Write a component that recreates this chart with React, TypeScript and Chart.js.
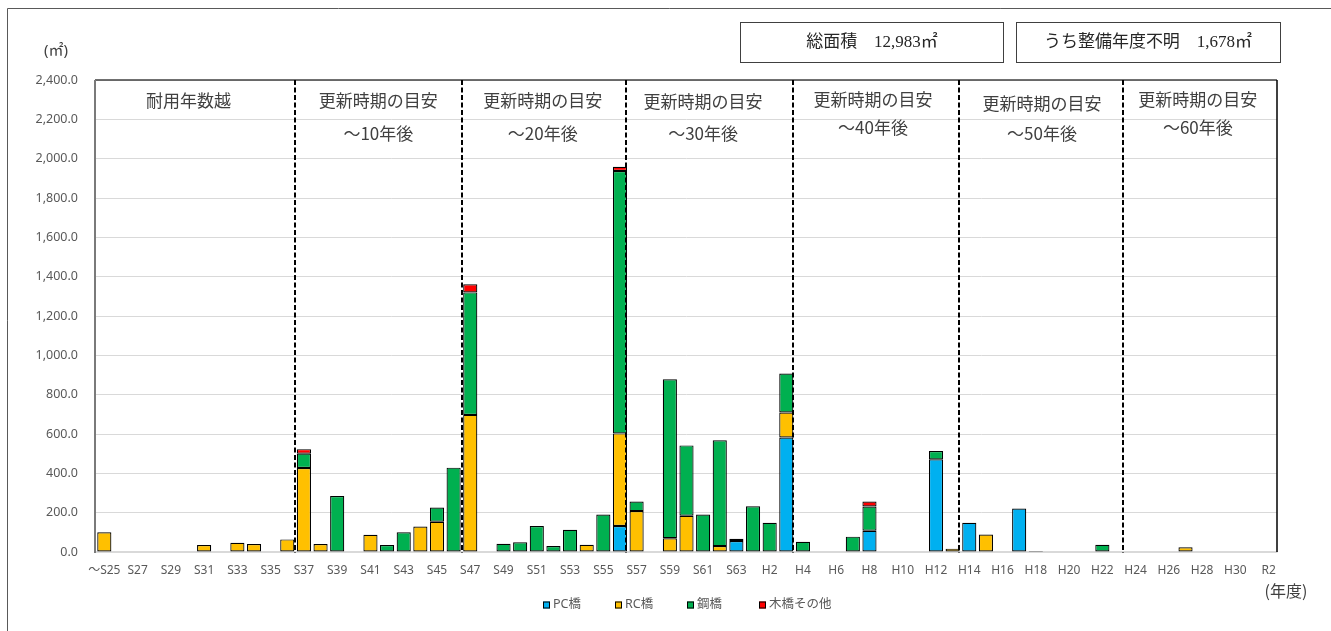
import React, { useEffect, useRef } from 'react';
import { Chart, registerables } from 'chart.js';

Chart.register(...registerables);

// ---- data ----
const CATEGORIES = [
  '～S25', 'S26', 'S27', 'S28', 'S29', 'S30', 'S31', 'S32', 'S33', 'S34',
  'S35', 'S36', 'S37', 'S38', 'S39', 'S40', 'S41', 'S42', 'S43', 'S44',
  'S45', 'S46', 'S47', 'S48', 'S49', 'S50', 'S51', 'S52', 'S53', 'S54',
  'S55', 'S56', 'S57', 'S58', 'S59', 'S60', 'S61', 'S62', 'S63', 'H1',
  'H2', 'H3', 'H4', 'H5', 'H6', 'H7', 'H8', 'H9', 'H10', 'H11',
  'H12', 'H13', 'H14', 'H15', 'H16', 'H17', 'H18', 'H19', 'H20', 'H21',
  'H22', 'H23', 'H24', 'H25', 'H26', 'H27', 'H28', 'H29', 'H30', 'R1',
  'R2',
];

const PC_BRIDGE = [
  0, 0, 0, 0, 0, 0, 0, 0, 0, 0,
  0, 0, 0, 0, 0, 0, 0, 0, 0, 0,
  0, 0, 0, 0, 0, 0, 0, 0, 0, 0,
  0, 132, 0, 0, 0, 0, 0, 0, 56, 0,
  0, 582, 0, 0, 0, 0, 108, 0, 0, 0,
  471, 0, 149, 0, 0, 221, 0, 0, 0, 0,
  0, 0, 0, 0, 0, 0, 0, 0, 0, 0,
  0,
];

const RC_BRIDGE = [
  100, 0, 0, 0, 0, 0, 35, 0, 47, 41,
  0, 64, 427, 41, 0, 0, 88, 0, 0, 130,
  154, 0, 697, 0, 0, 0, 0, 0, 0, 37,
  0, 471, 208, 0, 70, 184, 0, 30, 12, 0,
  0, 127, 0, 0, 0, 0, 0, 0, 0, 0,
  0, 17, 0, 89, 0, 0, 5, 0, 0, 0,
  0, 0, 0, 0, 0, 24, 0, 0, 0, 0,
  0,
];

const STEEL_BRIDGE = [
  0, 0, 0, 0, 0, 0, 0, 0, 0, 0,
  0, 0, 73, 0, 285, 0, 0, 35, 100, 0,
  72, 429, 623, 0, 42, 49, 132, 30, 113, 0,
  191, 1334, 49, 0, 808, 358, 191, 538, 0, 232,
  149, 198, 52, 0, 0, 78, 123, 0, 0, 0,
  42, 0, 0, 0, 0, 0, 0, 0, 0, 0,
  37, 0, 0, 0, 0, 0, 0, 0, 0, 0,
  0,
];

const WOOD_OTHER = [
  0, 0, 0, 0, 0, 0, 0, 0, 0, 0,
  0, 0, 23, 0, 0, 0, 0, 0, 0, 0,
  0, 0, 41, 0, 0, 0, 0, 0, 0, 0,
  0, 22, 0, 0, 0, 0, 0, 0, 0, 0,
  0, 0, 0, 0, 0, 0, 26, 0, 0, 0,
  0, 0, 0, 0, 0, 0, 0, 0, 0, 0,
  0, 0, 0, 0, 0, 0, 0, 0, 0, 0,
  0,
];

const SERIES_NAMES = ['PC橋', 'RC橋', '鋼橋', '木橋その他'];
const Y_MIN = 0;
const Y_MAX = 2400;
const Y_STEP = 200;

const PERIOD_LABELS = [
  ['耐用年数越'],
  ['更新時期の目安', '～10年後'],
  ['更新時期の目安', '～20年後'],
  ['更新時期の目安', '～30年後'],
  ['更新時期の目安', '～40年後'],
  ['更新時期の目安', '～50年後'],
  ['更新時期の目安', '～60年後'],
];
// divider positions in category-index units
const PERIOD_DIVIDERS = [11.46, 21.49, 31.34, 41.38, 51.4, 61.22];

const TOTAL_TEXT = '総面積　12,983㎡';
const UNKNOWN_TEXT = 'うち整備年度不明　1,678㎡';
const Y_UNIT = '(㎡)';
const X_UNIT = '(年度)';

// ---- styles / layout ----
const COLORS = ['#00B0F0', '#FFC000', '#00B050', '#FF0000'];
const LABEL_NUDGE = [
  { dx: -7, dy: [0] },
  { dx: 0, dy: [0, 0] },
  { dx: -1, dy: [0, 0] },
  { dx: -6, dy: [1, 0] },
  { dx: -3, dy: [-1, -6] },
  { dx: 1, dy: [3, 0] },
  { dx: -2, dy: [-1, -6] },
];

const W = 1331;
const H = 631;
const SANS = '"Noto Sans", "Noto Sans CJK JP", sans-serif';
const CJK = '"Noto Sans CJK JP", "Noto Sans", sans-serif';
const SERIF = '"Liberation Serif", "Noto Sans CJK JP", serif';

const overlayPlugin = {
  id: 'overlay',
  afterDatasetsDraw(chart: any) {
    const { ctx, chartArea: a, scales } = chart;
    const x = scales.x;
    ctx.save();
    // plot frame
    ctx.lineWidth = 1.5;
    ctx.strokeStyle = '#404040';
    ctx.beginPath();
    ctx.moveTo(a.left - 1, a.top);
    ctx.lineTo(a.right, a.top);
    ctx.stroke();
    ctx.strokeStyle = '#000';
    ctx.beginPath();
    ctx.moveTo(a.right, a.top);
    ctx.lineTo(a.right, a.bottom);
    ctx.stroke();
    ctx.lineWidth = 2;
    ctx.strokeStyle = '#7a7a7a';
    ctx.beginPath();
    ctx.moveTo(a.left - 1, a.top);
    ctx.lineTo(a.left - 1, a.bottom + 1);
    ctx.stroke();
    // dividers
    ctx.strokeStyle = '#000';
    ctx.lineWidth = 2;
    ctx.setLineDash([5, 2.5]);
    for (const d of PERIOD_DIVIDERS) {
      const px = Math.round(x.getPixelForValue(d));
      ctx.beginPath();
      ctx.moveTo(px, a.top);
      ctx.lineTo(px, a.bottom + 1);
      ctx.stroke();
    }
    ctx.restore();
  },
  afterDraw(chart: any) {
    const { ctx, chartArea: a, scales } = chart;
    const x = scales.x;
    ctx.save();
    // outer frame
    ctx.strokeStyle = '#595959';
    ctx.lineWidth = 1;
    ctx.beginPath();
    ctx.moveTo(7.5, H + 2);
    ctx.lineTo(7.5, 8.5);
    ctx.lineTo(W + 2, 8.5);
    ctx.stroke();

    // header boxes
    ctx.strokeStyle = '#404040';
    ctx.strokeRect(740.5, 22.5, 263, 40);
    ctx.strokeRect(1016.5, 22.5, 264, 40);
    ctx.fillStyle = '#262626';
    ctx.font = `17px ${SERIF}`;
    ctx.textAlign = 'center';
    ctx.textBaseline = 'middle';
    ctx.fillText(TOTAL_TEXT, 872, 43);
    ctx.fillText(UNKNOWN_TEXT, 1148, 43);

    // units
    ctx.fillStyle = '#404040';
    ctx.font = `15px ${SANS}`;
    ctx.fillText(Y_UNIT, 56, 51);
    ctx.font = `16px ${CJK}`;
    ctx.fillText(X_UNIT, 1286, 591);

    // period labels
    const bounds = [x.getPixelForValue(-0.5), ...PERIOD_DIVIDERS.map((d: number) => x.getPixelForValue(d)), a.right];
    ctx.font = `17px ${CJK}`;
    ctx.fillStyle = '#404040';
    PERIOD_LABELS.forEach((lines, i) => {
      const cx = (bounds[i] + bounds[i + 1]) / 2 + LABEL_NUDGE[i].dx;
      lines.forEach((t, j) => {
        ctx.fillText(t, cx, a.top + 21 + j * 33 + LABEL_NUDGE[i].dy[j]);
      });
    });

    // legend
    const slot = 72;
    const cxm = (a.left + a.right) / 2;
    let lx = Math.round(cxm - (slot * SERIES_NAMES.length) / 2);
    const ly = 605;
    ctx.textAlign = 'left';
    ctx.font = `12.5px ${SANS}`;
    SERIES_NAMES.forEach((n, i) => {
      ctx.fillStyle = COLORS[i];
      ctx.fillRect(lx, ly - 3.5, 7, 7);
      ctx.strokeStyle = '#000';
      ctx.lineWidth = 1;
      ctx.strokeRect(lx + 0.5, ly - 3, 6, 6);
      ctx.fillStyle = '#595959';
      ctx.fillText(n, lx + 10, ly - 1);
      lx += slot;
    });
    ctx.restore();
  },
};

export default function App() {
  const ref = useRef<HTMLCanvasElement>(null);

  useEffect(() => {
    if (!ref.current) return;
    const series = [PC_BRIDGE, RC_BRIDGE, STEEL_BRIDGE, WOOD_OTHER];
    const chart = new Chart(ref.current, {
      type: 'bar',
      data: {
        labels: CATEGORIES,
        datasets: series.map((d, i) => ({
          label: SERIES_NAMES[i],
          data: d.map((v) => (v ? v : null)),
          backgroundColor: COLORS[i],
          borderColor: '#000',
          borderWidth: 1.2,
          borderSkipped: false,
          inflateAmount: 0,
          barPercentage: 0.85,
          categoryPercentage: 1,
        })),
      },
      options: {
        responsive: false,
        animation: false,
        devicePixelRatio: 1,
        layout: { padding: { top: 80, right: 54, left: 0, bottom: 0 } },
        plugins: {
          legend: { display: false },
          tooltip: { enabled: false },
        },
        scales: {
          x: {
            stacked: true,
            grid: { display: false, drawTicks: false },
            border: { color: '#d9d9d9', width: 1.5 },
            ticks: {
              autoSkip: false,
              maxRotation: 0,
              minRotation: 0,
              padding: 11,
              color: '#595959',
              font: { size: 12, family: SANS },
              callback: (_v: any, i: number) => (i % 2 === 0 ? CATEGORIES[i] : ''),
            },
            afterFit: (s: any) => {
              s.height = 79;
            },
          },
          y: {
            stacked: true,
            min: Y_MIN,
            max: Y_MAX,
            grid: { color: '#d9d9d9', lineWidth: 1, drawTicks: false },
            border: { display: false },
            ticks: {
              stepSize: Y_STEP,
              padding: 18,
              color: '#595959',
              font: { size: 12.5, family: SANS },
              callback: (v: any) =>
                Number(v).toLocaleString('en-US', { minimumFractionDigits: 1, maximumFractionDigits: 1 }),
            },
            afterFit: (s: any) => {
              s.width = 96;
            },
          },
        },
      },
      plugins: [overlayPlugin],
    });
    return () => chart.destroy();
  }, []);

  return (
    <div style={{ position: 'fixed', left: 0, top: 0, width: W, height: H, background: '#fff' }}>
      <canvas ref={ref} width={W} height={H} style={{ display: 'block', width: W, height: H }} />
    </div>
  );
}
